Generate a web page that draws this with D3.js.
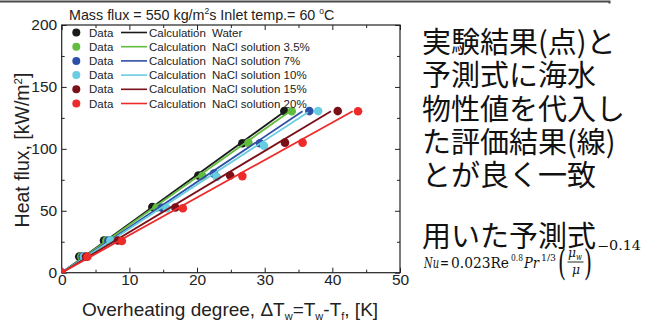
<!DOCTYPE html>
<html>
<head>
<meta charset="utf-8">
<script src="https://cdn.jsdelivr.net/npm/d3@7"></script>
<style>
  body { margin: 0; background: #fff; }
  svg { display: block; }
</style>
</head>
<body>
<svg id="chart" width="647" height="324"></svg>
<script>
// series names and colours
const seriesNames = ["Water", "NaCl solution 3.5%", "NaCl solution 7%", "NaCl solution 10%", "NaCl solution 15%", "NaCl solution 20%"]
const seriesColors = ["#1a1a1a", "#62bd3e", "#2e4fa6", "#68cde0", "#7b1118", "#ee2b2b"]

// measured data: overheating degree [K] and heat flux [kW/m2]
const dataDT = [
    [0, 2.6, 6.25, 13.4, 20.2, 26.7, 32.9],
    [0, 2.9, 6.6, 14.0, 20.8, 27.6, 34.0],
    [0, 3.1, 6.9, 14.8, 22.5, 29.3, 36.6],
    [0, 3.3, 7.2, 15.5, 22.9, 29.9, 37.9],
    [0, 3.6, 8.3, 16.8, 24.9, 33.0, 40.8],
    [0, 3.8, 8.9, 17.9, 26.7, 35.6, 43.8]
]
const dataQ = [
    [0, 13, 26, 53, 78.5, 104.5, 130.5],
    [0, 13, 26, 52.5, 78, 104.8, 130.3],
    [0, 13, 26, 52.5, 80, 104.5, 130.5],
    [0, 13, 26, 52, 77.4, 102.5, 130.5],
    [0, 13, 26, 52.7, 78.5, 105, 130.5],
    [0, 12.9, 25.6, 52, 78, 105, 130.4]
]

// calculation lines (start at origin, end point)
const calcEndDT = [33.0, 33.7, 35.6, 36.4, 39.8, 43.0]
const calcEndQ = [130.4, 130.2, 130.4, 129.5, 130.4, 130.4]

const xTicks = [0, 10, 20, 30, 40, 50]
const yTicks = [0, 50, 100, 150, 200]

const svg = d3.select("#chart")
const font = "'Liberation Sans', Arial, sans-serif"

// thin bar across the top
svg.append("path")
    .attr("d", "M0,1.5H609.5V3.5")
    .attr("fill", "none")
    .attr("stroke", "#4a4a4a")
    .attr("stroke-width", 2)

const x = d3.scaleLinear().domain([0, 50]).range([61.7, 400])
const y = d3.scaleLinear().domain([0, 200]).range([272.7, 25])

svg.append("clipPath").attr("id", "plotclip")
    .append("rect")
    .attr("x", x(0)).attr("y", y(200))
    .attr("width", x(50) - x(0)).attr("height", y(0) - y(200))

// axes with inward ticks on all four sides
const minorX = d3.range(5, 50, 10)
const minorY = d3.range(25, 200, 50)

function styleAxis(g) {
    g.select(".domain").remove()
    g.selectAll("line").attr("stroke", "#222").attr("stroke-width", 1)
    g.selectAll("text").attr("font-family", font).attr("font-size", 15.5).attr("fill", "#222")
}

svg.append("g").attr("transform", `translate(0,${y(0)})`)
    .call(d3.axisBottom(x).tickValues(xTicks).tickSize(-5).tickPadding(1.5))
    .call(styleAxis)
svg.append("g").attr("transform", `translate(0,${y(0)})`)
    .call(d3.axisBottom(x).tickValues(minorX).tickSize(-3).tickFormat(""))
    .call(styleAxis)
svg.append("g").attr("transform", `translate(0,${y(200)})`)
    .call(d3.axisTop(x).tickValues(xTicks).tickSize(-5).tickFormat(""))
    .call(styleAxis)
svg.append("g").attr("transform", `translate(0,${y(200)})`)
    .call(d3.axisTop(x).tickValues(minorX).tickSize(-3).tickFormat(""))
    .call(styleAxis)

svg.append("g").attr("transform", `translate(${x(0)},0)`)
    .call(d3.axisLeft(y).tickValues(yTicks).tickSize(-5).tickPadding(4.5))
    .call(styleAxis)
svg.append("g").attr("transform", `translate(${x(0)},0)`)
    .call(d3.axisLeft(y).tickValues(minorY).tickSize(-3).tickFormat(""))
    .call(styleAxis)
svg.append("g").attr("transform", `translate(${x(50)},0)`)
    .call(d3.axisRight(y).tickValues(yTicks).tickSize(-5).tickFormat(""))
    .call(styleAxis)
svg.append("g").attr("transform", `translate(${x(50)},0)`)
    .call(d3.axisRight(y).tickValues(minorY).tickSize(-3).tickFormat(""))
    .call(styleAxis)

// plot frame
svg.append("rect")
    .attr("x", x(0)).attr("y", y(200))
    .attr("width", x(50) - x(0)).attr("height", y(0) - y(200))
    .attr("fill", "none").attr("stroke", "#222").attr("stroke-width", 1.2)

// data points and calculation lines
const plot = svg.append("g").attr("clip-path", "url(#plotclip)")
seriesNames.forEach((name, s) => {
    const pts = dataDT[s].map((d, i) => [d, dataQ[s][i]])
    plot.append("g").selectAll("circle")
        .data(pts)
        .enter()
        .append("circle")
        .attr("cx", d => x(d[0]))
        .attr("cy", d => y(d[1]))
        .attr("r", 4.3)
        .attr("fill", seriesColors[s])
    plot.append("path")
        .datum([[0, 0], [calcEndDT[s], calcEndQ[s]]])
        .attr("d", d3.line().x(d => x(d[0])).y(d => y(d[1])))
        .attr("fill", "none")
        .attr("stroke", seriesColors[s])
        .attr("stroke-width", 1.8)
})

// legend
const legend = svg.append("g").attr("font-family", font).attr("font-size", 11.5).attr("fill", "#222")
seriesNames.forEach((name, s) => {
    const ly = 32.5 + s * 14.2
    legend.append("circle").attr("cx", 76.3).attr("cy", ly).attr("r", 4).attr("fill", seriesColors[s])
    legend.append("text").attr("x", 89).attr("y", ly).attr("dy", "0.36em").text("Data")
    legend.append("line").attr("x1", 121).attr("x2", 147).attr("y1", ly).attr("y2", ly)
        .attr("stroke", seriesColors[s]).attr("stroke-width", 1.6)
    legend.append("text").attr("x", 149).attr("y", ly).attr("dy", "0.36em").text("Calculation")
    legend.append("text").attr("x", 212).attr("y", ly).attr("dy", "0.36em").text(name)
})

// title
const title = svg.append("text").attr("x", 69).attr("y", 19.5)
    .attr("font-family", font).attr("font-size", 14.3).attr("fill", "#222")
title.append("tspan").text("Mass flux = 550 kg/m")
title.append("tspan").attr("font-size", 8.5).attr("dy", -6).text("2")
title.append("tspan").attr("dy", 6).text("s  Inlet temp.= 60 ")
title.append("tspan").attr("font-size", 8.5).attr("dy", -6).text("o")
title.append("tspan").attr("dy", 6).text("C")

// axis titles
const xt = svg.append("text").attr("x", 230).attr("y", 316).attr("text-anchor", "middle")
    .attr("font-family", font).attr("font-size", 19).attr("fill", "#222")
xt.append("tspan").text("Overheating degree, \u0394T")
xt.append("tspan").attr("font-size", 11).attr("dy", 4).text("w")
xt.append("tspan").attr("dy", -4).text("=T")
xt.append("tspan").attr("font-size", 11).attr("dy", 4).text("w")
xt.append("tspan").attr("dy", -4).text("-T")
xt.append("tspan").attr("font-size", 11).attr("dy", 4).text("f")
xt.append("tspan").attr("dy", -4).text(", [K]")

const yt = svg.append("text").attr("transform", "translate(29,150) rotate(-90)").attr("text-anchor", "middle")
    .attr("font-family", font).attr("font-size", 19.5).attr("fill", "#222")
yt.append("tspan").text("Heat flux, [kW/m")
yt.append("tspan").attr("font-size", 11.5).attr("dy", -7).text("2")
yt.append("tspan").attr("dy", 7).text("]")

// notes on the right
const notes = ["実験結果(点)と", "予測式に海水", "物性値を代入し", "た評価結果(線)", "とが良く一致"]
const jp = "'Noto Sans CJK JP', 'Noto Sans CJK SC', sans-serif"
svg.append("g").selectAll("text")
    .data(notes)
    .enter()
    .append("text")
    .attr("x", 422)
    .attr("y", (d, i) => 53 + i * 33.3)
    .attr("font-family", jp).attr("font-size", 29).attr("fill", "#111")
    .text(d => d)
svg.append("text").attr("x", 422).attr("y", 247)
    .attr("font-family", jp).attr("font-size", 29).attr("fill", "#111")
    .text("用いた予測式")

// correlation formula
const serif = "'DejaVu Serif', 'Liberation Serif', serif"
const f = svg.append("g").attr("font-family", serif).attr("fill", "#111")
function ftext(str, x0, y0, size, w, italic) {
    const t = f.append("text").attr("x", x0).attr("y", y0).attr("font-size", size).text(str)
    if (w) t.attr("textLength", w).attr("lengthAdjust", "spacingAndGlyphs")
    if (italic) t.attr("font-style", "italic")
    return t
}
ftext("Nu", 424, 268, 15, 15, true)
ftext("=", 440, 268, 15, 9, false)
ftext("0.023Re", 451, 268, 15, 58, false)
ftext("0.8", 511, 260.5, 10, 12, false)
ftext("Pr", 524, 268, 15, 15, true)
ftext("1/3", 541, 260.5, 10, 15, false)
ftext("(", 558, 275, 36, 8, false)
ftext("\u03bc", 568, 257, 13.5, 8, true)
ftext("w", 576, 259.5, 10, 6, true)
f.append("line").attr("x1", 567.5).attr("x2", 583.5).attr("y1", 262).attr("y2", 262)
    .attr("stroke", "#111").attr("stroke-width", 0.9)
ftext("\u03bc", 572, 273.5, 13.5, 8, true)
ftext(")", 584, 275, 36, 8, false)
ftext("\u22120.14", 597, 250, 12, 44, false)
</script>
</body>
</html>
